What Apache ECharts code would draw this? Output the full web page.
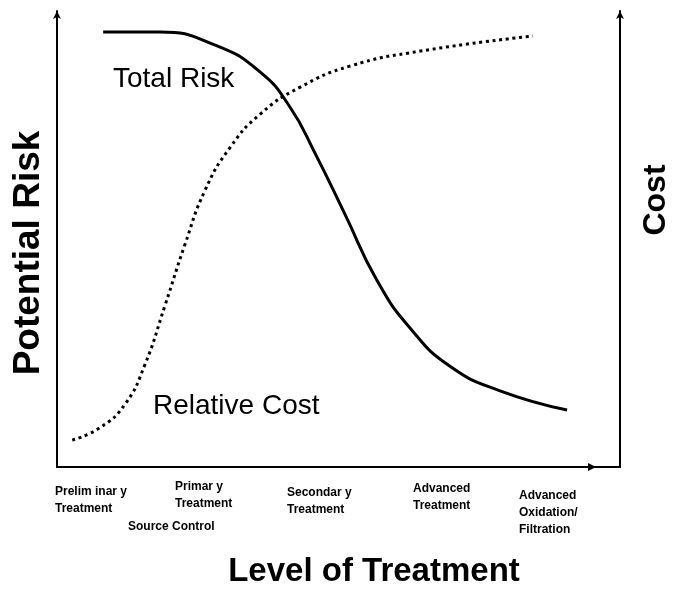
<!DOCTYPE html>
<html>
<head>
<meta charset="utf-8">
<script src="https://cdn.jsdelivr.net/npm/echarts@6/dist/echarts.min.js"></script>
<style>
html, body { margin: 0; padding: 0; background: #fff; }
#chart { width: 675px; height: 591px; }
</style>
</head>
<body>
<div id="chart"></div>
<script>
var chart = echarts.init(document.getElementById('chart'));

// level of treatment (0-100) vs relative level (0-100)
var riskX = [8.2, 18.3, 28.1, 36.1, 41.4, 45.8, 51.2, 56.8, 62.7, 69.8, 78.7, 90.6];
var riskY = [95.4, 95.4, 92.5, 86.6, 78.9, 68.9, 55.3, 41.0, 30.5, 22.1, 16.7, 12.5];

var costX = [2.7, 7.6, 12.1, 15.6, 19.2, 22.7, 26.3, 30.7, 36.1, 43.2, 52.0, 64.5, 84.5];
var costY = [5.9, 8.6, 13.8, 22.4, 35.5, 48.7, 60.7, 70.0, 77.4, 83.3, 87.9, 91.2, 94.5];

var levelLabels = [
	'Prelim inar y\nTreatment',
	'Primar y\nTreatment',
	'Source Control',
	'Secondar y\nTreatment',
	'Advanced\nTreatment',
	'Advanced\nOxidation/\nFiltration'
];

function pairs(xs, ys) {
	var out = [];
	for (var i = 0; i < xs.length; i++) {
		out.push([xs[i], ys[i]]);
	}
	return out;
}

var font = '"Liberation Sans", Arial, sans-serif';

var labelPos = [[55, 483], [175, 478], [128, 518], [287, 484], [413, 480], [519, 487]];
var labelGraphics = levelLabels.map(function(t, i) {
	return {
		type: 'text',
		left: labelPos[i][0],
		top: labelPos[i][1],
		style: {
			text: t,
			font: 'bold 12px ' + font,
			fill: '#000',
			lineHeight: 17
		}
	};
});

var option = {
	animation: false,
	grid: { left: 57, right: 55, top: 11, bottom: 124, outerBoundsMode: 'none' },
	xAxis: {
		type: 'value',
		min: 0,
		max: 100,
		axisLine: { lineStyle: { color: '#000', width: 2 } },
		axisTick: { show: false },
		axisLabel: { show: false },
		splitLine: { show: false }
	},
	yAxis: [{
		type: 'value',
		min: 0,
		max: 100,
		position: 'left',
		axisLine: { show: true, symbol: ['none', 'arrow'], symbolSize: [6, 8], lineStyle: { color: '#000', width: 2 } },
		axisTick: { show: false },
		axisLabel: { show: false },
		splitLine: { show: false }
	}, {
		type: 'value',
		min: 0,
		max: 100,
		position: 'right',
		axisLine: { show: true, symbol: ['none', 'arrow'], symbolSize: [6, 8], lineStyle: { color: '#000', width: 2 } },
		axisTick: { show: false },
		axisLabel: { show: false },
		splitLine: { show: false }
	}],
	graphic: labelGraphics.concat([{
		type: 'polygon',
		shape: { points: [[588, 463], [596, 467], [588, 471]] },
		style: { fill: '#000' }
	}, {
		type: 'text',
		x: 29,
		y: 253,
		rotation: Math.PI / 2,
		style: { text: 'Potential Risk', font: 'bold 37px ' + font, fill: '#000', align: 'center', verticalAlign: 'middle' }
	}, {
		type: 'text',
		x: 656,
		y: 200,
		rotation: Math.PI / 2,
		style: { text: 'Cost', font: 'bold 32px ' + font, fill: '#000', align: 'center', verticalAlign: 'middle' }
	}, {
		type: 'text',
		x: 374,
		y: 572,
		style: { text: 'Level of Treatment', font: 'bold 33px ' + font, fill: '#000', align: 'center', verticalAlign: 'middle' }
	}, {
		type: 'text',
		left: 113,
		top: 65,
		style: { text: 'Total Risk', font: '28px ' + font, fill: '#000' }
	}, {
		type: 'text',
		left: 153,
		top: 392,
		style: { text: 'Relative Cost', font: '28px ' + font, fill: '#000' }
	}]),
	series: [{
		name: 'Total Risk',
		type: 'line',
		smooth: 0.5,
		showSymbol: false,
		data: pairs(riskX, riskY),
		lineStyle: { color: '#000', width: 3 }
	}, {
		name: 'Relative Cost',
		type: 'line',
		smooth: 0.5,
		showSymbol: false,
		data: pairs(costX, costY),
		lineStyle: { color: '#000', width: 3, type: [3, 3.7], cap: 'butt' }
	}]
};

chart.setOption(option);
</script>
</body>
</html>
